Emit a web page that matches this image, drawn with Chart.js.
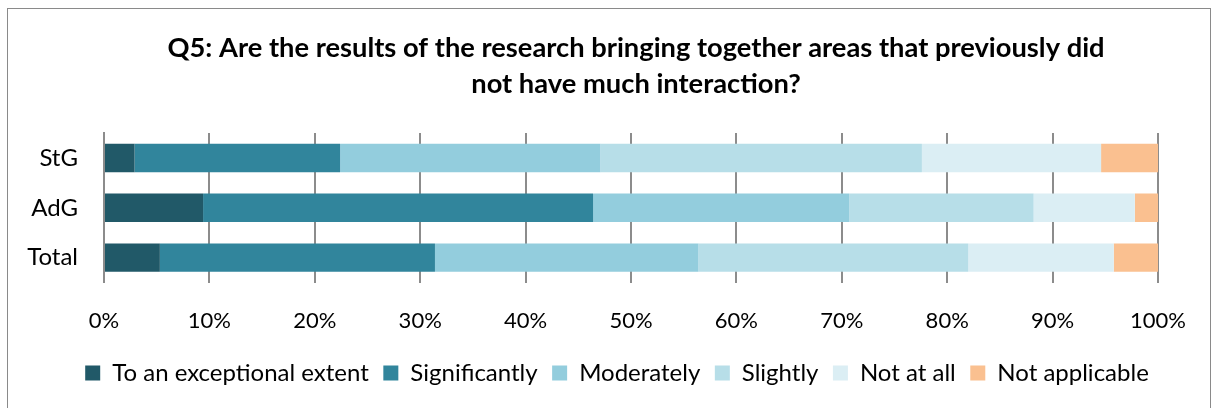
<!DOCTYPE html>
<html>
<head>
<meta charset="utf-8">
<script src="https://cdn.jsdelivr.net/npm/chart.js@4/dist/chart.umd.min.js"></script>
<style>
  html, body { margin: 0; padding: 0; background: #fff; }
  #wrap { width: 1213px; height: 408px; position: relative; }
</style>
</head>
<body>
<div id="wrap"><canvas id="myChart" width="1213" height="408"></canvas></div>
<script>
// data (percent of respondents)
const categories = ["StG", "AdG", "Total"];
const seriesNames = ["To an exceptional extent", "Significantly", "Moderately", "Slightly", "Not at all", "Not applicable"];
const exceptional = [2.9, 9.4, 5.3];
const significantly = [19.5, 37.0, 26.1];
const moderately = [24.7, 24.3, 25.0];
const slightly = [30.5, 17.5, 25.6];
const notAtAll = [17.0, 9.6, 13.8];
const notApplicable = [5.4, 2.2, 4.2];
const tickValues = [0, 10, 20, 30, 40, 50, 60, 70, 80, 90, 100];

const colors = ["#215968", "#31859C", "#93CDDD", "#B7DEE8", "#DBEEF4", "#FAC090"];
const allValues = [exceptional, significantly, moderately, slightly, notAtAll, notApplicable];

const FONT = "Lato, 'Noto Sans', sans-serif";

// frame around the whole chart + nudge title/legend off-centre like the original
const framePlugin = {
  id: "frame",
  afterLayout(chart) {
    chart.titleBlock.left += 53;
    chart.titleBlock.right += 53;
    chart.legend.left += 34;
    chart.legend.right += 34;
  },
  beforeDraw(chart) {
    const c = chart.ctx;
    c.save();
    c.fillStyle = "#fff";
    c.fillRect(0, 0, chart.width, chart.height);
    c.strokeStyle = "#8a8a8a";
    c.lineWidth = 1;
    c.strokeRect(7.5, 8.5, 1203, 430);
    c.restore();
  }
};

var ctx = document.getElementById('myChart');
var myChart = new Chart(ctx, {
  type: 'bar',
  data: {
    labels: categories,
    datasets: seriesNames.map((name, i) => ({
      label: name,
      data: allValues[i],
      backgroundColor: colors[i],
      borderWidth: 0,
      categoryPercentage: 1,
      barPercentage: 0.57
    }))
  },
  options: {
    indexAxis: 'y',
    responsive: false,
    animation: false,
    layout: { padding: { top: 12, left: 8, right: 55, bottom: 13 } },
    scales: {
      x: {
        stacked: true,
        min: 0,
        max: 100,
        afterBuildTicks(scale) { scale.ticks = tickValues.map(v => ({ value: v })); },
        afterFit(scale) { scale.height = 64; },
        ticks: {
          callback: v => v + "%",
          color: "#000",
          font: { family: FONT, size: 22 },
          padding: 25,
          maxRotation: 0
        },
        grid: { color: "#8c8c8c", lineWidth: 2, drawTicks: false },
        border: { display: false }
      },
      y: {
        stacked: true,
        afterFit(scale) { scale.width = 96; },
        ticks: {
          color: "#000",
          font: { family: FONT, size: 24 },
          padding: 26
        },
        grid: { display: false, drawTicks: false },
        border: { display: true, color: "#8c8c8c", width: 2 }
      }
    },
    plugins: {
      title: {
        display: true,
        text: ["Q5: Are the results of the research bringing together areas that previously did", "not have much interaction?"],
        color: "#000",
        font: { family: FONT, size: 27.3, weight: "bold", lineHeight: 1.32 },
        padding: { top: 18, bottom: 31 }
      },
      legend: {
        position: 'bottom',
        labels: {
          color: "#000",
          font: { family: FONT, size: 24 },
          boxWidth: 15,
          boxHeight: 15,
          padding: 14.5
        }
      },
      tooltip: { enabled: false }
    }
  },
  plugins: [framePlugin]
});
</script>
</body>
</html>
